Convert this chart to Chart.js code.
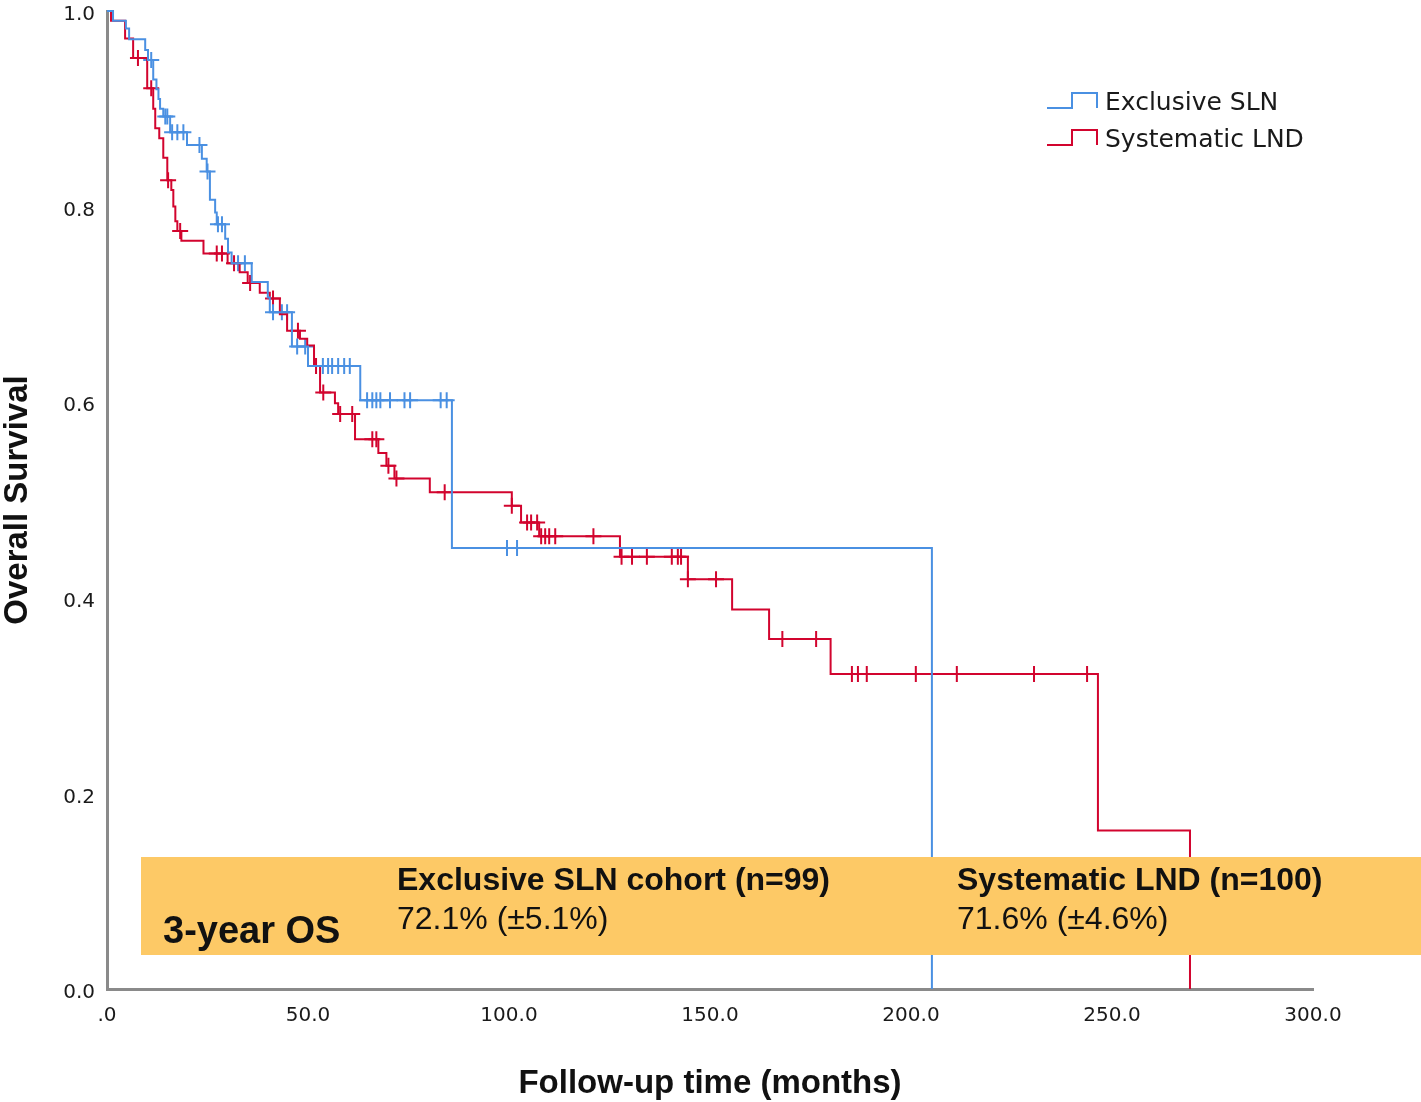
<!DOCTYPE html>
<html>
<head>
<meta charset="utf-8">
<script src="https://cdn.jsdelivr.net/npm/chart.js@4.4.1/dist/chart.umd.min.js"></script>
<style>
  html, body { margin: 0; padding: 0; background: #ffffff; }
  #survivalChart { display: block; }
</style>
</head>
<body>
<canvas id="survivalChart" width="1421" height="1102"></canvas>
<script>
// ===============================
// Kaplan-Meier data
// ===============================

// Exclusive SLN – event times (months) and survival after each drop
const slnTimes = [0, 1.5, 4.7, 5.5, 9.5, 10.2, 11.5, 12.3, 12.8, 13.2, 14, 15.7, 19.9, 23.6, 24.8, 25.6, 26.9, 27.3, 29.4, 30.1, 31, 36, 40, 40.5, 46, 50, 63, 85.8, 205.2];
const slnSurv = [1.0, 0.99, 0.982, 0.971, 0.96, 0.95, 0.93, 0.92, 0.91, 0.90, 0.892, 0.876, 0.863, 0.849, 0.836, 0.807, 0.794, 0.782, 0.767, 0.753, 0.742, 0.723, 0.707, 0.692, 0.657, 0.637, 0.602, 0.451, 0.0];
const slnCensored = [11, 14.5, 15, 16.2, 17.5, 19, 23, 25, 27.6, 28.6, 32.6, 34.3, 41.3, 43.5, 44.8, 47.3, 49.3, 53.7, 55, 56, 57.5, 59, 60.4, 64.7, 66, 67, 68, 70.4, 74, 75.4, 83, 84.5, 99.5, 102];

// Systematic LND
const lndTimes = [0, 1, 4.5, 6.5, 10, 11.5, 12, 13, 14, 15, 16, 16.5, 17, 17.5, 18.5, 24, 30, 33, 35, 38, 40.5, 43, 44.8, 48, 49.8, 51.5, 53, 56.7, 57.5, 61.7, 67.5, 69.5, 71.5, 80.3, 100.7, 103, 107.5, 127.6, 144.5, 155.5, 164.7, 180, 246.5, 269.4];
const lndSurv = [1.0, 0.99, 0.972, 0.952, 0.921, 0.90, 0.88, 0.87, 0.85, 0.827, 0.817, 0.80, 0.785, 0.775, 0.765, 0.752, 0.742, 0.733, 0.722, 0.712, 0.706, 0.69, 0.673, 0.665, 0.658, 0.637, 0.61, 0.599, 0.588, 0.562, 0.548, 0.535, 0.522, 0.508, 0.494, 0.477, 0.463, 0.442, 0.419, 0.388, 0.358, 0.322, 0.162, 0.0];
const lndCensored = [7.7, 11, 15.2, 18.2, 27.3, 28.6, 31.6, 35.6, 41.3, 47.5, 52, 53.8, 58, 61, 66, 67, 70, 72, 84, 100.7, 104.5, 105.5, 107, 108, 109, 110, 111.5, 121, 128, 130.6, 134.3, 140.5, 142, 142.8, 144.5, 151.5, 168, 176.4, 185.3, 186.8, 189, 201.2, 211.4, 230.6, 243.8];

// Axis ticks
const xTickValues = [0, 50, 100, 150, 200, 250, 300];
const yTickValues = [0, 0.2, 0.4, 0.6, 0.8, 1.0];

// Legend / annotation text
const seriesNames = ["Exclusive SLN", "Systematic LND"];
const boxHeadings = ["Exclusive SLN cohort (n=99)", "Systematic LND (n=100)"];
const boxValues = ["72.1% (±5.1%)", "71.6% (±4.6%)"];
const boxLabel = "3-year OS";

const BLUE = "rgb(74, 144, 226)";
const RED = "rgb(210, 4, 46)";

// -------------------------------
// helpers
// -------------------------------

// survival value of the step curve at time t (for censor marks)
function survivalAt(times, surv, t) {
  let s = surv[0];
  for (let i = 0; i < times.length; i++) {
    if (times[i] <= t) s = surv[i];
  }
  return s;
}

function toPoints(xs, ys) {
  return xs.map((x, i) => ({ x: x, y: ys[i] }));
}

function censorPoints(times, surv, censored) {
  return censored.map(t => ({ x: t, y: survivalAt(times, surv, t) }));
}

// -------------------------------
// overlay: orange box + legend
// -------------------------------
const overlayPlugin = {
  id: "overlay",
  afterDatasetsDraw(chart) {
    const ctx = chart.ctx;
    ctx.save();

    // orange summary band
    ctx.fillStyle = "#fdc966";
    ctx.fillRect(141, 857, 1421 - 141, 98);

    ctx.fillStyle = "#111111";
    ctx.textBaseline = "middle";
    ctx.textAlign = "left";

    ctx.font = "bold 38px 'Liberation Sans', Arial, sans-serif";
    ctx.fillText(boxLabel, 163, 933);

    ctx.font = "bold 32px 'Liberation Sans', Arial, sans-serif";
    ctx.fillText(boxHeadings[0], 397, 881);
    ctx.fillText(boxHeadings[1], 957, 881);

    ctx.font = "32px 'Liberation Sans', Arial, sans-serif";
    ctx.fillText(boxValues[0], 397, 920);
    ctx.fillText(boxValues[1], 957, 920);

    // legend with step icons
    const colors = [BLUE, RED];
    const rowsY = [103, 140];
    ctx.font = "25px 'DejaVu Sans', sans-serif";
    ctx.lineWidth = 2;
    seriesNames.forEach((name, i) => {
      const yMid = rowsY[i];
      const low = yMid + 5;
      const high = yMid - 10;
      ctx.strokeStyle = colors[i];
      ctx.beginPath();
      ctx.moveTo(1047, low);
      ctx.lineTo(1072, low);
      ctx.lineTo(1072, high);
      ctx.lineTo(1097, high);
      ctx.lineTo(1097, low);
      ctx.stroke();
      ctx.fillStyle = "#1a1a1a";
      ctx.fillText(name, 1105, yMid);
    });

    ctx.restore();
  }
};

// ===============================
// Chart
// ===============================
document.addEventListener("DOMContentLoaded", () => {
  const ctx = document.getElementById("survivalChart").getContext("2d");

  new Chart(ctx, {
    type: "line",
    data: {
      datasets: [
        {
          label: seriesNames[0],
          data: toPoints(slnTimes, slnSurv),
          borderColor: BLUE,
          borderWidth: 2,
          stepped: "before",
          pointRadius: 0,
          fill: false,
          clip: false
        },
        {
          label: seriesNames[1],
          data: toPoints(lndTimes, lndSurv),
          borderColor: RED,
          borderWidth: 2,
          stepped: "before",
          pointRadius: 0,
          fill: false,
          clip: false
        },
        {
          label: "SLN censored",
          data: censorPoints(slnTimes, slnSurv, slnCensored),
          showLine: false,
          pointStyle: "cross",
          pointRadius: 8,
          pointBorderWidth: 2,
          borderColor: BLUE,
          pointBorderColor: BLUE,
          clip: false
        },
        {
          label: "LND censored",
          data: censorPoints(lndTimes, lndSurv, lndCensored),
          showLine: false,
          pointStyle: "cross",
          pointRadius: 8,
          pointBorderWidth: 2,
          borderColor: RED,
          pointBorderColor: RED,
          clip: false
        }
      ]
    },
    options: {
      responsive: false,
      animation: false,
      layout: { padding: { top: 11, right: 108, left: 0, bottom: 0 } },
      plugins: {
        legend: { display: false },
        tooltip: { enabled: false }
      },
      scales: {
        x: {
          type: "linear",
          min: 0,
          max: 300,
          afterFit: scale => {
            scale.height = 113;
            scale.paddingLeft = 0;
            scale.paddingRight = 0;
          },
          afterBuildTicks: scale => {
            scale.ticks = xTickValues.map(v => ({ value: v }));
          },
          grid: { display: false, drawTicks: false },
          border: { display: true, color: "#8a8a8a", width: 3 },
          ticks: {
            padding: 15,
            color: "#1a1a1a",
            font: { family: "'DejaVu Sans', sans-serif", size: 20 },
            maxRotation: 0,
            callback: v => (v === 0 ? ".0" : v.toFixed(1))
          },
          title: {
            display: true,
            text: "Follow-up time (months)",
            color: "#111111",
            font: { family: "'Liberation Sans', Arial, sans-serif", size: 33, weight: "bold", lineHeight: 1.1 },
            padding: { top: 0, bottom: 0 }
          }
        },
        y: {
          min: 0,
          max: 1,
          afterFit: scale => {
            scale.width = 107;
            scale.paddingTop = 0;
            scale.paddingBottom = 0;
          },
          afterBuildTicks: scale => {
            scale.ticks = yTickValues.map(v => ({ value: v }));
          },
          grid: { display: false, drawTicks: false },
          border: { display: true, color: "#8a8a8a", width: 3 },
          ticks: {
            padding: 12,
            labelOffset: 4,
            color: "#1a1a1a",
            font: { family: "'DejaVu Sans', sans-serif", size: 20 },
            callback: v => v.toFixed(1)
          },
          title: {
            display: true,
            text: "Overall Survival",
            color: "#111111",
            font: { family: "'Liberation Sans', Arial, sans-serif", size: 33, weight: "bold", lineHeight: 1.1 },
            padding: { top: 0, bottom: 0 }
          }
        }
      }
    },
    plugins: [overlayPlugin]
  });
});
</script>
</body>
</html>
